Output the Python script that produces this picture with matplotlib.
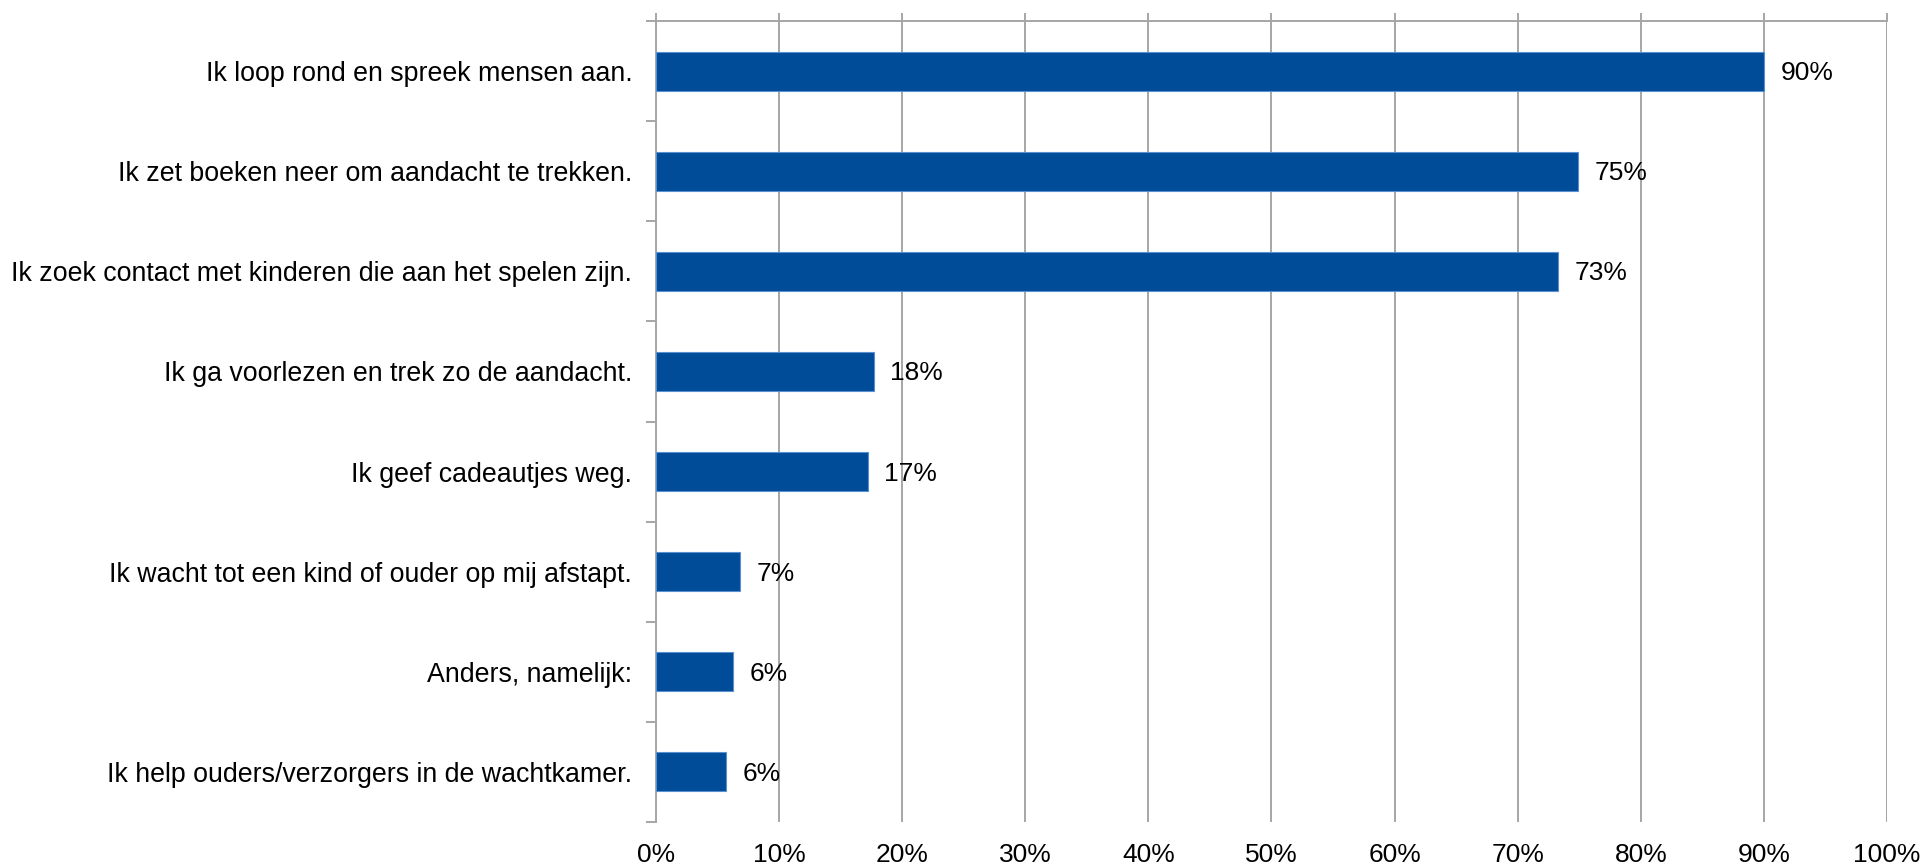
import matplotlib.pyplot as plt
from matplotlib.ticker import FixedLocator

categories = [
    'Ik loop rond en spreek mensen aan.',
    'Ik zet boeken neer om aandacht te trekken.',
    'Ik zoek contact met kinderen die aan het spelen zijn.',
    'Ik ga voorlezen en trek zo de aandacht.',
    'Ik geef cadeautjes weg.',
    'Ik wacht tot een kind of ouder op mij afstapt.',
    'Anders, namelijk:',
    'Ik help ouders/verzorgers in de wachtkamer.',
]
values = [90.0, 74.9, 73.3, 17.7, 17.2, 6.8, 6.3, 5.7]
value_labels = ['90%', '75%', '73%', '18%', '17%', '7%', '6%', '6%']
x_ticks = list(range(0, 101, 10))

plt.rcParams['font.family'] = ['Liberation Sans', 'DejaVu Sans']
grey = '#A6A6A6'

fig = plt.figure(figsize=(19.23, 8.65), dpi=100)
ax = fig.add_axes([0.3411, 0.0497, 0.9813 - 0.3411, 0.9757 - 0.0497])

ypos = list(range(len(categories)))
ax.barh(ypos, values, height=0.39, color='#004C99', edgecolor='#5A8FD0',
        linewidth=0.8, zorder=3)

for y, v, lab in zip(ypos, values, value_labels):
    ax.text(v + 1.35, y + 0.02, lab, va='center', ha='left', fontsize=19, color='black')

ax.set_xlim(0, 100)
ax.set_ylim(len(categories) - 0.5, -0.5)

ax.set_xticks(x_ticks)
ax.set_xticklabels([f'{t}%' for t in x_ticks], fontsize=19)
ax.xaxis.grid(True, color=grey, linewidth=1.4, zorder=0)
ax.tick_params(axis='x', which='major', top=True, bottom=False,
               labeltop=False, labelbottom=True, direction='out',
               length=6, width=1.4, color=grey, pad=9)

ax.set_yticks(ypos)
ax.set_yticklabels(categories, fontsize=19.3)
ax.tick_params(axis='y', which='major', length=0, pad=17)
ax.yaxis.set_minor_locator(FixedLocator([i - 0.5 for i in range(len(categories) + 1)]))
ax.tick_params(axis='y', which='minor', left=True, direction='out',
               length=7.5, width=1.4, color=grey)

for side in ['right', 'bottom']:
    ax.spines[side].set_visible(False)
for side in ['left', 'top']:
    ax.spines[side].set_color(grey)
    ax.spines[side].set_linewidth(1.4)

fig.savefig('out.png', dpi=100)
